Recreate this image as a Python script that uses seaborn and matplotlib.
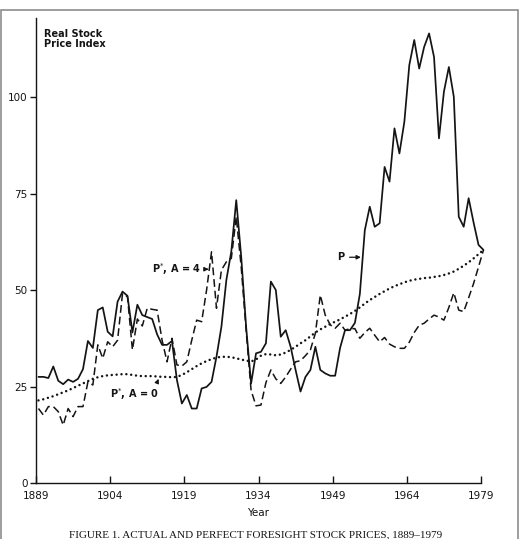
import numpy as np
import pandas as pd
import matplotlib
matplotlib.use("Agg")
import matplotlib.pyplot as plt
import seaborn as sns
from matplotlib.patches import Rectangle

# ---------------- data ----------------
years = list(range(1889, 1980))

p_actual = [
    27.5, 27.5, 27.2, 30.2, 26.5, 25.6, 26.8, 26.2, 27.0, 29.5,   # 1889-1898
    36.8, 35.0, 44.8, 45.5, 39.2, 38.0, 47.0, 49.6, 48.5, 39.0,   # 1899-1908
    46.2, 43.5, 43.0, 42.5, 38.5, 35.8, 35.8, 36.8, 26.7, 20.6,   # 1909-1918
    22.8, 19.3, 19.3, 24.5, 24.9, 26.2, 32.7, 40.5, 52.6, 60.0,   # 1919-1928
    73.3, 58.7, 40.4, 25.8, 33.6, 34.0, 36.2, 52.2, 50.0, 37.9,   # 1929-1938
    39.6, 35.3, 29.3, 23.7, 27.5, 29.3, 35.3, 29.3, 28.4, 27.8,   # 1939-1948
    27.8, 35.0, 39.6, 39.6, 41.5, 49.0, 65.5, 71.6, 66.4, 67.3,   # 1949-1958
    81.9, 78.1, 91.9, 85.4, 93.6, 108.3, 114.8, 107.4, 113.0, 116.5,  # 1959-1968
    110.4, 89.3, 101.4, 107.8, 100.1, 69.0, 66.4, 73.8, 67.5, 61.7,   # 1969-1978
    60.4,                                                          # 1979
]

p_star_a4 = [
    19.3, 17.6, 19.8, 19.8, 18.5, 15.0, 19.3, 17.2, 19.8, 19.8,   # 1889-1898
    26.2, 25.4, 35.8, 32.3, 36.6, 35.3, 37.0, 49.1, 48.3, 34.5,   # 1899-1908
    42.5, 40.7, 45.3, 45.0, 44.8, 37.0, 31.4, 37.5, 30.6, 30.3,   # 1909-1918
    31.4, 37.0, 42.2, 41.8, 50.0, 59.9, 45.3, 55.2, 57.3, 58.2,   # 1919-1928
    69.0, 56.0, 39.6, 24.0, 20.0, 20.2, 26.0, 29.3, 27.0, 25.8,   # 1929-1938
    27.5, 29.5, 31.4, 31.7, 33.0, 34.5, 38.8, 48.7, 43.5, 41.0,   # 1939-1948
    40.1, 41.4, 39.6, 40.0, 40.0, 37.5, 39.0, 40.1, 38.3, 36.6,   # 1949-1958
    37.7, 36.0, 35.3, 34.9, 34.9, 36.5, 39.0, 40.9, 41.4, 42.5,   # 1959-1968
    43.5, 43.0, 42.2, 45.5, 49.3, 44.8, 44.4, 48.0, 51.7, 56.0,   # 1969-1978
    60.4,                                                          # 1979
]

p_star_a0 = [
    21.4, 21.7, 22.1, 22.5, 23.0, 23.5, 24.0, 24.6, 25.2, 25.8,   # 1889-1898
    26.4, 27.0, 27.4, 27.7, 27.9, 28.0, 28.1, 28.2, 28.2, 28.0,   # 1899-1908
    27.8, 27.7, 27.7, 27.7, 27.6, 27.5, 27.5, 27.4, 27.5, 28.0,   # 1909-1918
    28.7, 29.5, 30.3, 31.0, 31.6, 32.1, 32.5, 32.7, 32.7, 32.6,   # 1919-1928
    32.3, 32.0, 31.7, 31.5, 32.0, 33.0, 33.4, 33.3, 33.1, 33.3,   # 1929-1938
    33.8, 34.5, 35.3, 36.2, 37.0, 38.0, 39.0, 39.8, 40.5, 41.2,   # 1939-1948
    41.8, 42.4, 43.1, 43.8, 44.6, 45.5, 46.5, 47.4, 48.2, 49.0,   # 1949-1958
    49.7, 50.4, 51.0, 51.5, 52.0, 52.4, 52.7, 52.9, 53.1, 53.2,   # 1959-1968
    53.4, 53.6, 53.9, 54.3, 54.8, 55.5, 56.3, 57.2, 58.2, 59.3,   # 1969-1978
    60.4,                                                          # 1979
]

x_ticks = [1889, 1904, 1919, 1934, 1949, 1964, 1979]
y_ticks = [0, 25, 50, 75, 100]
y_tick_labels = ["0", "25", "50", "75", "100"]

# ---------------- figure ----------------
sns.set_theme(style="white")
plt.rcParams["font.family"] = ["DejaVu Sans"]
plt.rcParams["lines.scale_dashes"] = False

W, H = 525, 539
fig = plt.figure(figsize=(W / 100, H / 100), dpi=100)
fig.patch.set_facecolor("white")

def fx(px):
    return px / W

def fy(py):
    return 1 - py / H

ax = fig.add_axes([fx(36), fy(483), (481 - 36) / W, (483 - 18) / H])
ax.set_facecolor("white")

df = pd.DataFrame({"Year": years, "P": p_actual, "A4": p_star_a4, "A0": p_star_a0})
df["xpos"] = df["Year"] + 0.5   # annual points plotted mid-year

ink = "#141414"
sns.lineplot(data=df, x="xpos", y="P", ax=ax, color=ink, lw=1.25,
             sort=False, clip_on=False)
sns.lineplot(data=df, x="xpos", y="A4", ax=ax, color=ink, lw=1.1,
             sort=False, clip_on=False)
sns.lineplot(data=df, x="xpos", y="A0", ax=ax, color=ink, lw=1.8,
             sort=False, clip_on=False)
lines = ax.get_lines()
lines[1].set_dashes([5.6, 2.8])
lines[2].set_linestyle((0, (0.01, 3.5)))
lines[2].set_dash_capstyle("round")

ax.set_xlim(1889, 1979)
ax.set_ylim(0, 120.5)
for s in ["top", "right"]:
    ax.spines[s].set_visible(False)
for s in ["left", "bottom"]:
    ax.spines[s].set_color(ink)
    ax.spines[s].set_linewidth(1.0)

ax.set_xticks(x_ticks)
ax.set_xticklabels([str(v) for v in x_ticks])
ax.set_yticks(y_ticks)
ax.set_yticklabels(y_tick_labels)
ax.tick_params(axis="x", direction="in", length=5, width=1.0, pad=6,
               labelsize=7.5, colors=ink, bottom=True)
ax.tick_params(axis="y", direction="out", length=4.5, width=1.0, pad=1.5,
               labelsize=7.5, colors=ink, left=True)
ax.set_xlabel("Year", fontsize=7.5, color=ink, labelpad=5)
ax.set_ylabel("")

# axis title inside
fig.text(fx(44), fy(29), "Real Stock\nPrice Index", fontsize=7, color=ink,
         fontweight="bold", ha="left", va="top", linespacing=1.05)

# annotations
arrow_kw = dict(arrowstyle="-|>", lw=0.9, color=ink, mutation_scale=6,
                shrinkA=1.5, shrinkB=0)
ax.annotate("P", xy=(1954.7, 58.5), xytext=(1949.9, 58.5), ha="left", va="center",
            fontsize=7, fontweight="bold", color=ink, arrowprops=arrow_kw)
ax.annotate(r"P$^{*}$, A = 4", xy=(1923.9, 55.4), xytext=(1912.4, 55.4),
            ha="left", va="center", fontsize=7, fontweight="bold", color=ink,
            arrowprops=arrow_kw)
ax.annotate(r"P$^{*}$, A = 0", xy=(1913.8, 27.0), xytext=(1903.9, 23.0),
            ha="left", va="center", fontsize=7, fontweight="bold", color=ink,
            arrowprops=dict(arrow_kw, connectionstyle="arc3,rad=0.35"))

# page frame and caption
fig.patches.append(Rectangle((fx(0.8), -0.05), fx(517.5), fy(9.5) + 0.05,
                             transform=fig.transFigure, fill=False,
                             edgecolor="#8c8c8c", lw=1.2))
fig.text(fx(256), fy(537.5), "FIGURE 1. ACTUAL AND PERFECT FORESIGHT STOCK PRICES, 1889\u20131979",
         fontsize=8.0, family="Liberation Serif", ha="center", va="baseline", color=ink)

fig.savefig("out.png", dpi=100, facecolor="white")
